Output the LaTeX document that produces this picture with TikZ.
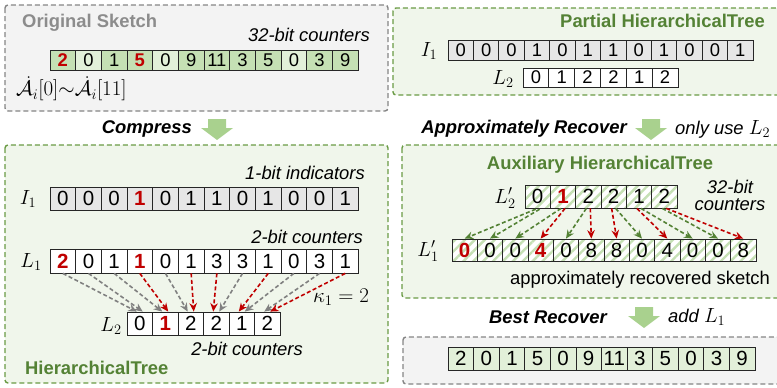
\RequirePackage{fix-cm}
\documentclass[tikz,border=0pt]{standalone}
\usepackage{fontspec}
\setmainfont{Liberation Sans}
\usetikzlibrary{arrows.meta,patterns.meta}

\definecolor{cellgreen}{HTML}{C5E0B4}
\definecolor{cellpale}{HTML}{E2F0D9}
\definecolor{cellgray}{HTML}{E6E6E6}
\definecolor{hired}{HTML}{C00000}
\definecolor{treegreen}{HTML}{548235}
\definecolor{boxgreen}{HTML}{6A9B45}
\definecolor{boxgreenfill}{HTML}{F0F6EB}
\definecolor{boxgray}{HTML}{858585}
\definecolor{boxgrayfill}{HTML}{F3F3F3}
\definecolor{titlegray}{HTML}{8C8C8C}
\definecolor{blockgreen}{HTML}{A9D18E}
\definecolor{linkgray}{HTML}{808080}

\tikzset{
  base/.style={font=\fontsize{18.4}{22}\selectfont},
  cell/.style={draw=black!85, line width=0.8pt, inner sep=0pt,
    font=\fontsize{#1}{24}\selectfont},
  cell/.default=18.4,
  dk/.style={fill=cellgreen},
  lt/.style={fill=cellpale},
  gy/.style={fill=cellgray},
  wt/.style={fill=white},
  hot/.style={text=hired, execute at begin node={\bfseries}},
  dkhot/.style={dk, hot},
  gyhot/.style={gy, hot},
  wthot/.style={wt, hot},
  hatch/.style={preaction={fill=white},
    pattern={Lines[angle=45, distance=7pt, line width=2.4pt]},
    pattern color=cellgreen},
  hatchhot/.style={hatch, hot},
  graybox/.style={draw=boxgray, fill=boxgrayfill, line width=1.4pt,
    dash pattern=on 5pt off 3pt, rounded corners=3pt},
  greenbox/.style={draw=boxgreen, fill=boxgreenfill, line width=1.4pt,
    dash pattern=on 5pt off 3pt, rounded corners=3pt},
  lbl/.style={base, inner sep=0pt},
  mathlbl/.style={inner sep=0pt, font=\fontsize{20.5}{24}\selectfont},
  ital/.style={lbl, font=\fontsize{18.4}{22}\selectfont\itshape},
  stepname/.style={lbl, font=\fontsize{18.4}{22}\selectfont\bfseries\itshape},
  treetitle/.style={lbl, text=treegreen, font=\fontsize{18.4}{22}\selectfont\bfseries},
  link/.style={dashed, dash pattern=on 4pt off 2.5pt, line width=1.6pt,
    -{Stealth[length=8.5pt, width=7.5pt]}},
  gylink/.style={link, draw=linkgray},
  rdlink/.style={link, draw=hired},
  gnlink/.style={link, draw=treegreen},
  blockarrow/.style={fill=blockgreen}
}

\begin{document}
\begin{tikzpicture}[x=1pt, y=-1pt]
\useasboundingbox (0,0) rectangle (777,388);

% ---------- frames ----------
\draw[graybox]  (5,5)     rectangle (388,111);
\draw[greenbox] (5,145)   rectangle (388,383);
\draw[greenbox] (393,8)   rectangle (781,95);
\draw[greenbox] (402,145) rectangle (781,298);
\draw[graybox]  (403,337) rectangle (781,384);

% ---------- original sketch ----------
\node[lbl, text=titlegray, font=\fontsize{18.4}{22}\selectfont\bfseries, anchor=west]
  (ostitle) at (22,23) {Original Sketch};
\node[ital, anchor=east] (oscap) at (370,35) {32-bit counters};
\foreach \v/\s [count=\k from 0] in {2/dkhot,0/lt,1/dk,5/dkhot,0/lt,9/dk,11/dk,3/dk,5/dk,0/lt,3/dk,9/dk}
  \node[cell, \s, minimum width=25.67pt, minimum height=20pt] (os\k) at ({50+25.67*(\k+0.5)},60) {\v};
\node[mathlbl, font=\fontsize{21}{24}\selectfont, anchor=west] (osrange) at (16,89)
  {$\dot{\mathcal{A}}_i[0]{\sim}\dot{\mathcal{A}}_i[11]$};

% ---------- compress ----------
\node[stepname, anchor=east] (compress) at (192,129) {Compress};
\begin{scope}[shift={(201,119)}]
  \fill[blockarrow] (7,0) -- (25,0) -- (25,9) -- (32,9) -- (16,21) -- (0,9) -- (7,9) -- cycle;
\end{scope}

% ---------- hierarchical tree ----------
\node[ital, anchor=east] (icap) at (365,173) {1-bit indicators};
\node[mathlbl] (ilabel) at (28,199) {$I_1$};
\foreach \v/\s [count=\k from 0] in {0/gy,0/gy,0/gy,1/gyhot,0/gy,1/gy,1/gy,0/gy,1/gy,0/gy,0/gy,1/gy}
  \node[cell=20.5, \s, minimum width=25.67pt, minimum height=23pt] (ia\k) at ({50+25.67*(\k+0.5)},198.5) {\v};

\node[ital, anchor=east] (lacap) at (363,237) {2-bit counters};
\node[mathlbl] (lalabel) at (31,262) {$L_1$};
\foreach \v/\s [count=\k from 0] in {2/wthot,0/wt,1/wt,1/wthot,0/wt,1/wt,3/wt,3/wt,1/wt,0/wt,3/wt,1/wt}
  \node[cell=20.5, \s, minimum width=25.67pt, minimum height=24pt] (la\k) at ({50+25.67*(\k+0.5)},261) {\v};

\node[mathlbl] (lblabel) at (111,326) {$L_2$};
\foreach \v/\s [count=\k from 0] in {0/wt,1/wthot,2/wt,2/wt,1/wt,2/wt}
  \node[cell=20.5, \s, minimum width=25.5pt, minimum height=23pt] (lb\k) at ({127+25.5*(\k+0.5)},323.5) {\v};
\node[ital] (lbcap) at (247,349) {2-bit counters};
\node[mathlbl, font=\fontsize{21}{24}\selectfont] (kappa) at (341,297) {$\kappa_1 = 2$};
\node[treetitle, anchor=west] (httitle) at (25,368) {HierarchicalTree};

% L1 counters fold pairwise into L2; red where the indicator bit is set
\foreach \i/\j/\dx/\s in {0/0/-3/gylink,1/0/3/gylink,2/1/-3/gylink,3/1/3/rdlink,
    4/2/-3/gylink,5/2/3/rdlink,6/3/-3/rdlink,7/3/3/gylink,
    8/4/-3/rdlink,9/4/3/gylink,10/5/-3/gylink,11/5/3/rdlink}
  \draw[\s] (la\i.south) -- ([xshift=\dx pt]lb\j.north);

% ---------- partial hierarchical tree ----------
\node[treetitle, anchor=east] (pttitle) at (765,21) {Partial HierarchicalTree};
\node[mathlbl] (iblabel) at (429,51) {$I_1$};
\foreach \v [count=\k from 0] in {0,0,0,1,0,1,1,0,1,0,0,1}
  \node[cell, gy, minimum width=25.42pt, minimum height=20pt] (ib\k) at ({448+25.42*(\k+0.5)},50) {\v};
\node[mathlbl] (lclabel) at (503,79) {$L_2$};
\foreach \v [count=\k from 0] in {0,1,2,2,1,2}
  \node[cell, wt, minimum width=25.83pt, minimum height=19pt] (lc\k) at ({523+25.83*(\k+0.5)},77.5) {\v};

% ---------- approximately recover ----------
\node[stepname, anchor=east] (approx) at (627,129) {Approximately Recover};
\begin{scope}[shift={(635,119)}]
  \fill[blockarrow] (7,0) -- (25,0) -- (25,9) -- (32,9) -- (16,21) -- (0,9) -- (7,9) -- cycle;
\end{scope}
\node[ital, anchor=west] (onlyuse) at (675,129) {only use {\fontsize{20.5}{24}\selectfont$L_2$}};

% ---------- auxiliary hierarchical tree ----------
\node[treetitle] (auxtitle) at (600,165) {Auxiliary HierarchicalTree};
\node[mathlbl] (ldlabel) at (505,198) {$L_2'$};
\foreach \v/\s [count=\k from 0] in {0/hatch,1/hatchhot,2/hatch,2/hatch,1/hatch,2/hatch}
  \node[cell=20.5, \s, minimum width=25.33pt, minimum height=23pt] (ld\k) at ({525+25.33*(\k+0.5)},196.5) {\v};
\node[ital, align=center, font=\fontsize{18.4}{17}\selectfont\itshape] (ldcap) at (730,195) {32-bit\\counters};

\node[mathlbl] (lelabel) at (428,251) {$L_1'$};
\foreach \v/\s [count=\k from 0] in {0/hatchhot,0/hatch,0/hatch,4/hatchhot,0/hatch,8/hatch,8/hatch,0/hatch,4/hatch,0/hatch,0/hatch,8/hatch}
  \node[cell=20.5, \s, minimum width=25.33pt, minimum height=22pt] (le\k) at ({452+25.33*(\k+0.5)},250) {\v};
\node[lbl] (lecap) at (640,280) {approximately recovered sketch};

% L2' counters expand back onto L1' positions selected by I1
\foreach \j/\i/\dx/\s in {0/0/-2/gnlink,0/1/2/gnlink,1/2/-2/gnlink,1/3/2/rdlink,
    2/4/-2/gnlink,2/5/2/rdlink,3/6/-2/rdlink,3/7/2/gnlink,
    4/8/-2/rdlink,4/9/2/gnlink,5/10/-2/gnlink,5/11/2/rdlink}
  \draw[\s] ([xshift=\dx pt]ld\j.south) -- (le\i.north);

% ---------- best recover ----------
\node[stepname, anchor=east] (best) at (607,317) {Best Recover};
\begin{scope}[shift={(628,307)}]
  \fill[blockarrow] (7,0) -- (25,0) -- (25,9) -- (32,9) -- (16,21) -- (0,9) -- (7,9) -- cycle;
\end{scope}
\node[ital, anchor=west] (addl) at (668,317) {add {\fontsize{20.5}{24}\selectfont$L_1$}};
\foreach \v [count=\k from 0] in {2,0,1,5,0,9,11,3,5,0,3,9}
  \node[cell=20.5, lt, minimum width=25.58pt, minimum height=23pt] (bs\k) at ({448+25.58*(\k+0.5)},358.5) {\v};
\end{tikzpicture}
\end{document}
